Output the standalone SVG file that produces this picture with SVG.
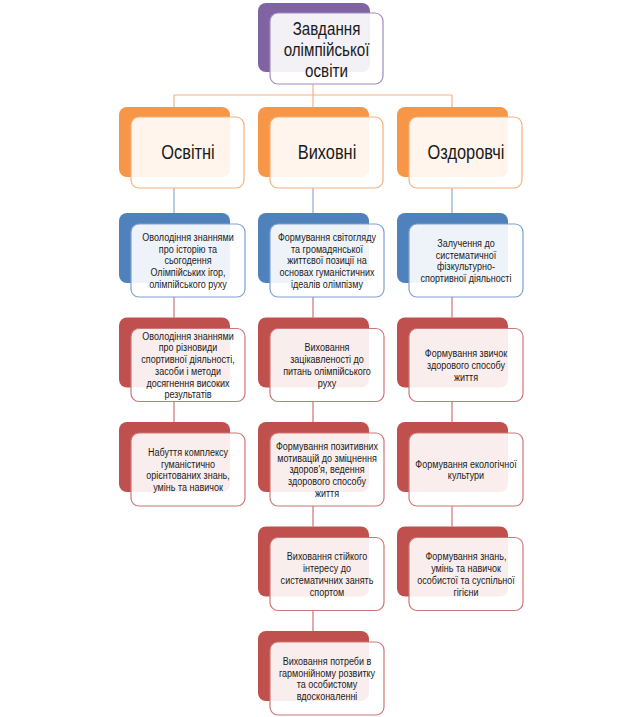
<svg xmlns="http://www.w3.org/2000/svg" width="640" height="717" viewBox="0 0 640 717">
<style>
.bk{stroke:none}
.fr{fill:#fff;fill-opacity:0.9;stroke-width:1.2}
.p .bk{fill:#8064A2}.p .fr{stroke:#A08CC0}
.o .bk{fill:#F79646}.o .fr{stroke:#F7B07C}
.b .bk{fill:#4F81BD}.b .fr{stroke:#809FCF}
.r .bk{fill:#C0504D}.r .fr{stroke:#CC7876}
text{font-family:"Liberation Sans Narrow","Arial Narrow","Liberation Sans",Arial,sans-serif;fill:#1a1a1a;text-anchor:middle}
.big{font-size:20px}
.top{font-size:18.5px}
.sm{font-size:11px}
#conn line{stroke-width:1.2;fill:none}
.co{stroke:#F5B283}.cb{stroke:#8EACD6}.cr{stroke:#CC7473}
</style>
<rect width="640" height="717" fill="#fff"/>
<g id="conn">
<line class="co" x1="313" y1="84" x2="313" y2="95"/>
<line class="co" x1="174" y1="95" x2="452" y2="95"/>
<line class="co" x1="174" y1="95" x2="174" y2="107"/>
<line class="co" x1="313" y1="95" x2="313" y2="107"/>
<line class="co" x1="452" y1="95" x2="452" y2="107"/>
<line class="cb" x1="174" y1="188" x2="174" y2="213"/>
<line class="cb" x1="313" y1="188" x2="313" y2="213"/>
<line class="cb" x1="452" y1="188" x2="452" y2="213"/>
<line class="cr" x1="174" y1="297" x2="174" y2="317.5"/>
<line class="cr" x1="174" y1="401.5" x2="174" y2="422"/>
<line class="cr" x1="313" y1="297" x2="313" y2="317.5"/>
<line class="cr" x1="313" y1="401.5" x2="313" y2="422"/>
<line class="cr" x1="313" y1="506" x2="313" y2="526.5"/>
<line class="cr" x1="313" y1="610.5" x2="313" y2="631"/>
<line class="cr" x1="452" y1="297" x2="452" y2="317.5"/>
<line class="cr" x1="452" y1="401.5" x2="452" y2="422"/>
<line class="cr" x1="452" y1="506" x2="452" y2="526.5"/>
</g>
<g id="root" class="p">
<rect class="bk" x="258" y="3" width="112" height="69" rx="8"/>
<rect class="fr" x="270" y="13" width="113" height="71" rx="8"/>
<text class="top" transform="matrix(0.82 0 0 1 326.5 0)"><tspan x="0" y="35.5">Завдання</tspan><tspan x="0" y="56.5">олімпійської</tspan><tspan x="0" y="77.5">освіти</tspan></text>
</g>
<g id="cat1" class="o">
<rect class="bk" x="119" y="107" width="111" height="70" rx="8"/>
<rect class="fr" x="131" y="117" width="113" height="71" rx="8"/>
<text class="big" transform="matrix(0.82 0 0 1 188 0)" x="0" y="159">Освітні</text>
</g>
<g id="cat2" class="o">
<rect class="bk" x="258" y="107" width="111" height="70" rx="8"/>
<rect class="fr" x="270" y="117" width="113" height="71" rx="8"/>
<text class="big" transform="matrix(0.82 0 0 1 327 0)" x="0" y="159">Виховні</text>
</g>
<g id="cat3" class="o">
<rect class="bk" x="397" y="107" width="111" height="70" rx="8"/>
<rect class="fr" x="409" y="117" width="113" height="71" rx="8"/>
<text class="big" transform="matrix(0.82 0 0 1 466 0)" x="0" y="159">Оздоровчі</text>
</g>
<g id="n1a" class="b">
<rect class="bk" x="119" y="213" width="111" height="70" rx="8"/>
<rect class="fr" x="131" y="224" width="114" height="73" rx="8"/>
<text class="sm" transform="matrix(0.82 0 0 1 188 0)"><tspan x="0" y="241">Оволодіння знаннями</tspan><tspan x="0" y="252.7">про історію та</tspan><tspan x="0" y="264.4">сьогодення</tspan><tspan x="0" y="276.1">Олімпійських ігор,</tspan><tspan x="0" y="287.8">олімпійського руху</tspan></text>
</g>
<g id="n1b" class="r">
<rect class="bk" x="119" y="317.5" width="111" height="70" rx="8"/>
<rect class="fr" x="131" y="328.5" width="114" height="73" rx="8"/>
<text class="sm" transform="matrix(0.82 0 0 1 188 0)"><tspan x="0" y="339.8">Оволодіння знаннями</tspan><tspan x="0" y="351.5">про різновиди</tspan><tspan x="0" y="363.2">спортивної діяльності,</tspan><tspan x="0" y="374.9">засоби і методи</tspan><tspan x="0" y="386.6">досягнення високих</tspan><tspan x="0" y="398.3">результатів</tspan></text>
</g>
<g id="n1c" class="r">
<rect class="bk" x="119" y="422" width="111" height="70" rx="8"/>
<rect class="fr" x="131" y="433" width="114" height="73" rx="8"/>
<text class="sm" transform="matrix(0.82 0 0 1 188 0)"><tspan x="0" y="456">Набуття комплексу</tspan><tspan x="0" y="467.7">гуманістично</tspan><tspan x="0" y="479.4">орієнтованих знань,</tspan><tspan x="0" y="491.1">умінь та навичок</tspan></text>
</g>
<g id="n2a" class="b">
<rect class="bk" x="258" y="213" width="111" height="70" rx="8"/>
<rect class="fr" x="270" y="224" width="114" height="73" rx="8"/>
<text class="sm" transform="matrix(0.82 0 0 1 327 0)"><tspan x="0" y="241">Формування світогляду</tspan><tspan x="0" y="252.7">та громадянської</tspan><tspan x="0" y="264.4">життєвої позиції на</tspan><tspan x="0" y="276.1">основах гуманістичних</tspan><tspan x="0" y="287.8">ідеалів олімпізму</tspan></text>
</g>
<g id="n2b" class="r">
<rect class="bk" x="258" y="317.5" width="111" height="70" rx="8"/>
<rect class="fr" x="270" y="328.5" width="114" height="73" rx="8"/>
<text class="sm" transform="matrix(0.82 0 0 1 327 0)"><tspan x="0" y="351.5">Виховання</tspan><tspan x="0" y="363.2">зацікавленості до</tspan><tspan x="0" y="374.9">питань олімпійського</tspan><tspan x="0" y="386.6">руху</tspan></text>
</g>
<g id="n2c" class="r">
<rect class="bk" x="258" y="422" width="111" height="70" rx="8"/>
<rect class="fr" x="270" y="433" width="114" height="73" rx="8"/>
<text class="sm" transform="matrix(0.82 0 0 1 327 0)"><tspan x="0" y="450.1">Формування позитивних</tspan><tspan x="0" y="461.8">мотивацій до зміцнення</tspan><tspan x="0" y="473.5">здоров'я, ведення</tspan><tspan x="0" y="485.2">здорового способу</tspan><tspan x="0" y="496.9">життя</tspan></text>
</g>
<g id="n2d" class="r">
<rect class="bk" x="258" y="526.5" width="111" height="70" rx="8"/>
<rect class="fr" x="270" y="537.5" width="114" height="73" rx="8"/>
<text class="sm" transform="matrix(0.82 0 0 1 327 0)"><tspan x="0" y="560.5">Виховання стійкого</tspan><tspan x="0" y="572.2">інтересу до</tspan><tspan x="0" y="583.9">систематичних занять</tspan><tspan x="0" y="595.6">спортом</tspan></text>
</g>
<g id="n2e" class="r">
<rect class="bk" x="258" y="631" width="111" height="70" rx="8"/>
<rect class="fr" x="270" y="642" width="114" height="73" rx="8"/>
<text class="sm" transform="matrix(0.82 0 0 1 327 0)"><tspan x="0" y="665">Виховання потреби в</tspan><tspan x="0" y="676.7">гармонійному розвитку</tspan><tspan x="0" y="688.4">та особистому</tspan><tspan x="0" y="700.1">вдосконаленні</tspan></text>
</g>
<g id="n3a" class="b">
<rect class="bk" x="397" y="213" width="111" height="70" rx="8"/>
<rect class="fr" x="409" y="224" width="114" height="73" rx="8"/>
<text class="sm" transform="matrix(0.82 0 0 1 466 0)"><tspan x="0" y="247">Залучення до</tspan><tspan x="0" y="258.7">систематичної</tspan><tspan x="0" y="270.4">фізкультурно-</tspan><tspan x="0" y="282.1">спортивної діяльності</tspan></text>
</g>
<g id="n3b" class="r">
<rect class="bk" x="397" y="317.5" width="111" height="70" rx="8"/>
<rect class="fr" x="409" y="328.5" width="114" height="73" rx="8"/>
<text class="sm" transform="matrix(0.82 0 0 1 466 0)"><tspan x="0" y="357.3">Формування звичок</tspan><tspan x="0" y="369">здорового способу</tspan><tspan x="0" y="380.7">життя</tspan></text>
</g>
<g id="n3c" class="r">
<rect class="bk" x="397" y="422" width="111" height="70" rx="8"/>
<rect class="fr" x="409" y="433" width="114" height="73" rx="8"/>
<text class="sm" transform="matrix(0.82 0 0 1 466 0)"><tspan x="0" y="467.6">Формування екологічної</tspan><tspan x="0" y="479.3">культури</tspan></text>
</g>
<g id="n3d" class="r">
<rect class="bk" x="397" y="526.5" width="111" height="70" rx="8"/>
<rect class="fr" x="409" y="537.5" width="114" height="73" rx="8"/>
<text class="sm" transform="matrix(0.82 0 0 1 466 0)"><tspan x="0" y="560.5">Формування знань,</tspan><tspan x="0" y="572.2">умінь та навичок</tspan><tspan x="0" y="583.9">особистої та суспільної</tspan><tspan x="0" y="595.6">гігієни</tspan></text>
</g>
</svg>
